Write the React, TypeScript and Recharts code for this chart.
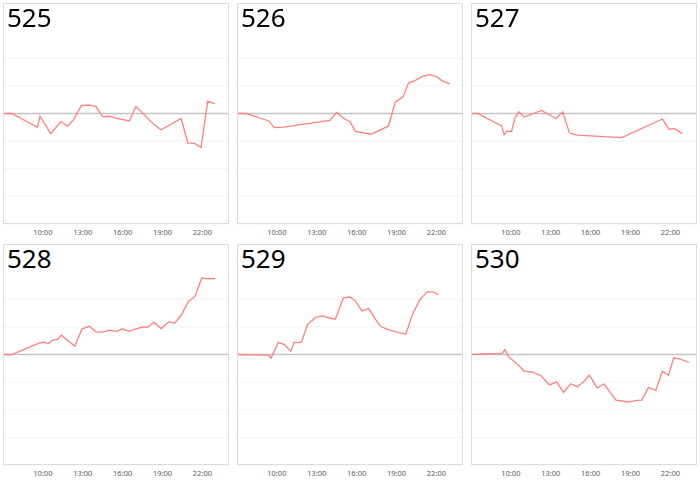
import React from "react";
import { LineChart, Line, XAxis, YAxis, CartesianGrid, ReferenceLine } from "recharts";

const panelTitles = ["525", "526", "527", "528", "529", "530"];
const xTicks = [10, 13, 16, 19, 22];
const yTicks = [-4, -3, -2, -1, 0, 1, 2, 3, 4];

const hours525 = [7, 7.65, 9.5, 9.6, 9.78, 10.6, 11.35, 11.85, 12.3, 12.9, 13.5, 14.0, 14.5, 15.0, 15.5, 16.5, 17.0, 17.8, 18.4, 18.9, 20.4, 20.9, 21.4, 21.9, 22.4, 22.95];
const values525 = [0, 0, -0.47, -0.5, -0.1, -0.73, -0.29, -0.46, -0.23, 0.29, 0.3, 0.25, -0.11, -0.1, -0.17, -0.27, 0.25, -0.13, -0.42, -0.59, -0.18, -1.06, -1.08, -1.23, 0.45, 0.35];

const hours526 = [7, 7.68, 9.4, 9.8, 10.5, 14.0, 14.5, 15.1, 15.5, 15.9, 17.1, 18.4, 18.9, 19.5, 19.9, 20.35, 21.0, 21.5, 22.0, 22.4, 23.0];
const values526 = [0, 0, -0.27, -0.51, -0.49, -0.25, 0.04, -0.2, -0.29, -0.65, -0.75, -0.45, 0.41, 0.61, 1.1, 1.18, 1.35, 1.41, 1.34, 1.19, 1.07];

const hours527 = [7, 7.5, 9.3, 9.5, 9.7, 10.05, 10.3, 10.6, 11.0, 12.3, 13.4, 13.9, 14.4, 15.0, 18.35, 21.4, 21.9, 22.3, 22.9];
const values527 = [0, 0, -0.45, -0.77, -0.64, -0.65, -0.17, 0.06, -0.13, 0.11, -0.18, 0.06, -0.7, -0.78, -0.87, -0.2, -0.57, -0.55, -0.73];

const hours528 = [7, 7.65, 9.7, 10.1, 10.4, 10.7, 11.1, 11.4, 12.4, 12.95, 13.5, 14.0, 14.5, 15.0, 15.55, 15.95, 16.5, 17.0, 17.55, 17.9, 18.35, 18.9, 19.5, 19.9, 20.4, 20.95, 21.45, 21.95, 22.3, 22.95];
const values528 = [0, 0, 0.41, 0.45, 0.39, 0.51, 0.55, 0.7, 0.3, 0.93, 1.02, 0.82, 0.81, 0.88, 0.83, 0.93, 0.84, 0.93, 1.0, 0.99, 1.17, 0.94, 1.19, 1.13, 1.42, 1.92, 2.11, 2.77, 2.75, 2.75];

const hours529 = [7, 9.4, 9.55, 10.1, 10.55, 11.05, 11.3, 11.85, 12.3, 12.9, 13.45, 13.9, 14.4, 15.0, 15.5, 15.9, 16.4, 16.9, 17.45, 17.8, 18.35, 19.7, 20.2, 20.75, 21.3, 21.75, 22.15];
const values529 = [0, -0.02, -0.14, 0.43, 0.37, 0.12, 0.43, 0.45, 1.08, 1.34, 1.4, 1.33, 1.28, 2.05, 2.08, 1.94, 1.58, 1.66, 1.25, 1.02, 0.9, 0.73, 1.46, 1.98, 2.27, 2.27, 2.16];

const hours530 = [7, 9.35, 9.55, 9.8, 10.45, 11.0, 11.65, 12.25, 12.9, 13.45, 13.95, 14.5, 15.0, 15.45, 15.9, 16.5, 17.0, 17.9, 18.9, 19.4, 19.85, 20.35, 20.9, 21.4, 21.85, 22.25, 22.75, 23.4];
const values530 = [0, 0.04, 0.18, -0.06, -0.34, -0.6, -0.64, -0.76, -1.1, -0.99, -1.37, -1.06, -1.17, -1.0, -0.75, -1.22, -1.06, -1.65, -1.72, -1.66, -1.65, -1.19, -1.3, -0.6, -0.76, -0.12, -0.17, -0.29];

const seriesHours = [hours525, hours526, hours527, hours528, hours529, hours530];
const seriesValues = [values525, values526, values527, values528, values529, values530];

const PANEL_W = 226;
const PLOT_H = 221;
const AXIS_H = 16;
const colLefts = [3, 237, 471];
const rowTops = [3, 244];

function Panel({ title, hours, values, left, top }: { title: string; hours: number[]; values: number[]; left: number; top: number }) {
  const data = hours.map((h, i) => ({ h, v: values[i] }));
  return (
    <div style={{ position: "absolute", left, top, width: PANEL_W, height: PLOT_H + AXIS_H }}>
      <LineChart width={PANEL_W} height={PLOT_H + AXIS_H} data={data} margin={{ top: 0, right: 0, bottom: 0, left: 0 }}>
        <CartesianGrid vertical={false} stroke="#f3f3f3" strokeWidth={1} />
        <XAxis
          dataKey="h"
          type="number"
          domain={[7, 24]}
          ticks={xTicks}
          tickFormatter={(h: number) => `${h}:00`}
          tickLine={false}
          axisLine={false}
          tickSize={4}
          height={AXIS_H}
          tick={{ fontSize: 7.5, fill: "#595959", fontFamily: "Noto Sans" }}
          interval={0}
        />
        <YAxis hide domain={[-4, 4]} ticks={yTicks} type="number" />
        <ReferenceLine y={0} stroke="#c4c4c4" strokeWidth={1.5} />
        <Line type="linear" dataKey="v" stroke="#ff7f7f" strokeWidth={1.3} dot={false} isAnimationActive={false} />
      </LineChart>
      <div
        style={{
          position: "absolute",
          left: 0,
          top: 0,
          width: PANEL_W,
          height: PLOT_H,
          border: "1px solid #dcdcdc",
          boxSizing: "border-box",
          pointerEvents: "none",
        }}
      />
      <div
        style={{
          position: "absolute",
          left: 4,
          top: 1,
          fontFamily: "Noto Sans",
          fontSize: 26,
          lineHeight: "26px",
          color: "#000",
        }}
      >
        {title}
      </div>
    </div>
  );
}

export default function App() {
  return (
    <div style={{ position: "fixed", left: 0, top: 0, width: 700, height: 480, background: "#fff" }}>
      {panelTitles.map((t, i) => (
        <Panel
          key={t}
          title={t}
          hours={seriesHours[i]}
          values={seriesValues[i]}
          left={colLefts[i % 3]}
          top={rowTops[Math.floor(i / 3)]}
        />
      ))}
    </div>
  );
}
